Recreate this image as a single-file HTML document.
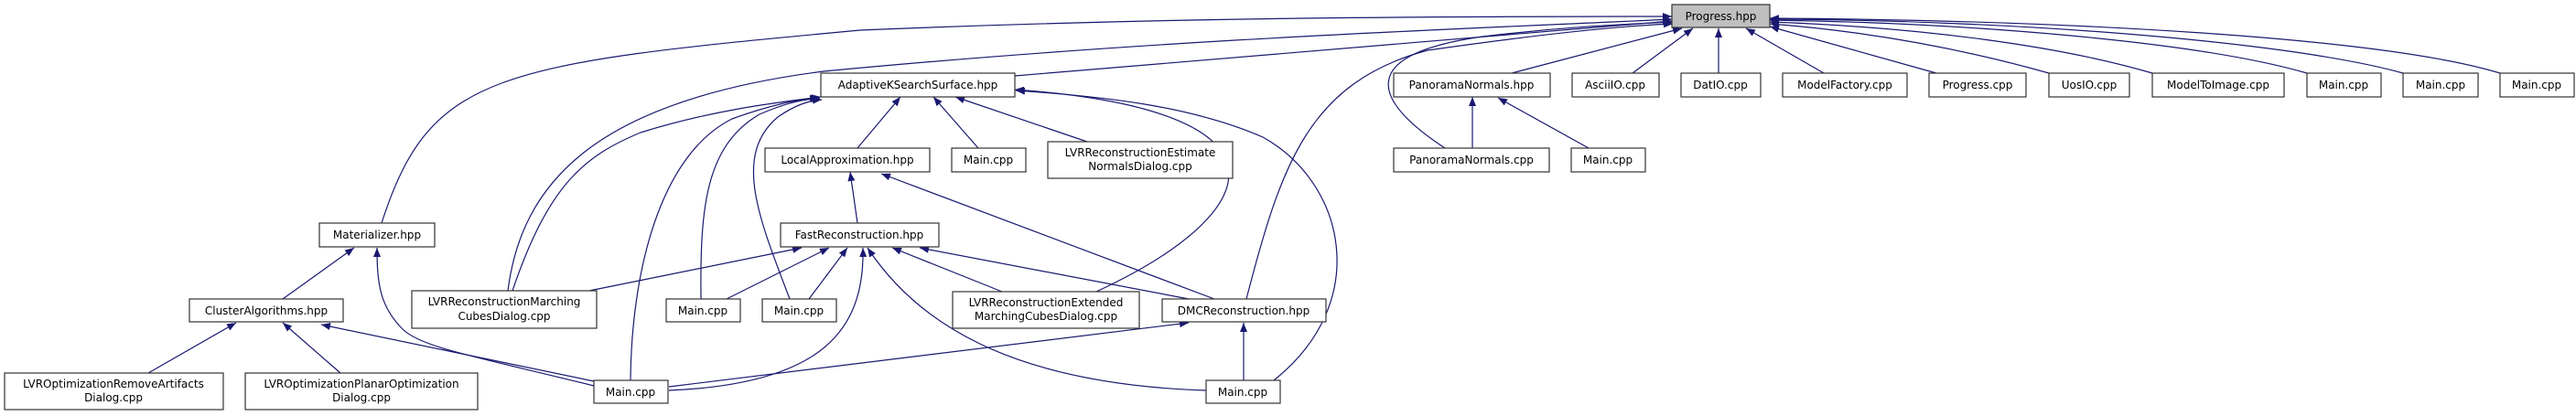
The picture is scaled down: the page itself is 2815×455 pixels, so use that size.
<!DOCTYPE html>
<html><head><meta charset="utf-8"><style>
html,body{margin:0;padding:0;background:#fff;}
svg{display:block;}
text{font-family:"DejaVu Sans","Liberation Sans",sans-serif;font-size:12px;fill:#000;text-anchor:middle;}
.b{fill:#fff;stroke:#333;stroke-width:1.2;}
.e{fill:none;stroke:#191970;stroke-width:1.2;marker-end:url(#a);}
</style></head><body>
<svg width="2815" height="455" viewBox="0 0 2815 455" xmlns="http://www.w3.org/2000/svg">
<defs><marker id="a" viewBox="0 0 10 8" refX="10" refY="4" markerWidth="10" markerHeight="8" markerUnits="userSpaceOnUse" orient="auto"><path d="M0,0L10,4L0,8z" fill="#191970"/></marker></defs>
<!-- edges to Progress -->
<path class="e" d="M417,244 C470,80 540,70 940,33 C1300,18 1600,18 1827,18"/>
<path class="e" d="M555,318 C570,200 650,110 900,78 C1300,40 1650,30 1827,21"/>
<path class="e" d="M1109,83 L1827,23"/>
<path class="e" d="M1362,327 C1400,180 1430,90 1560,55 C1700,35 1780,28 1828,26"/>
<path class="e" d="M1579,162 C1500,110 1480,60 1620,40 C1720,28 1790,26 1828,24"/>
<path class="e" d="M1652,80 L1838,31"/>
<path class="e" d="M1784,80 L1850,31"/>
<path class="e" d="M1878,80 L1878,31"/>
<path class="e" d="M1993,80 L1908,31"/>
<path class="e" d="M2116,80 L1934,29"/>
<path class="e" d="M2239,80 C2150,55 2050,35 1934,26"/>
<path class="e" d="M2352,80 C2250,50 2100,30 1934,24"/>
<path class="e" d="M2521,80 C2400,45 2150,25 1934,22"/>
<path class="e" d="M2626,80 C2500,45 2200,22 1934,21"/>
<path class="e" d="M2732,80 C2600,40 2250,22 1934,20"/>
<!-- edges to Adaptive -->
<path class="e" d="M937,162 L984,106"/>
<path class="e" d="M1069,162 L1020,106"/>
<path class="e" d="M1188,155 L1044,106"/>
<path class="e" d="M560,318 C600,200 640,170 700,145 C780,120 850,112 897,106"/>
<path class="e" d="M689,416 C690,300 720,170 800,130 C850,112 880,108 895,107"/>
<path class="e" d="M766,327 C765,230 770,160 830,125 C860,112 880,108 896,108"/>
<path class="e" d="M863,327 C830,240 800,170 850,128 C870,114 885,110 898,109"/>
<path class="e" d="M1198,319 C1390,230 1420,120 1109,98"/>
<path class="e" d="M1392,416 C1500,330 1470,200 1380,150 C1300,115 1200,105 1110,99"/>
<!-- LocalApprox -->
<path class="e" d="M937,244 L929,188"/>
<path class="e" d="M1327,327 L963,190"/>
<!-- FastRecon -->
<path class="e" d="M644,318 L876,271"/>
<path class="e" d="M794,327 L906,271"/>
<path class="e" d="M884,327 L926,271"/>
<path class="e" d="M731,427 C900,420 945,360 943,271"/>
<path class="e" d="M1318,427 C1100,420 1000,350 948,271"/>
<path class="e" d="M1095,319 L975,271"/>
<path class="e" d="M1299,327 L1005,271"/>
<!-- DMC -->
<path class="e" d="M731,423 L1299,353"/>
<path class="e" d="M1359,416 L1359,353"/>
<!-- Materializer -->
<path class="e" d="M309,327 L387,271"/>
<path class="e" d="M649,422 C520,390 460,380 440,360 C415,335 412,310 412,271"/>
<!-- Cluster -->
<path class="e" d="M162,408 L258,353"/>
<path class="e" d="M372,408 L309,353"/>
<path class="e" d="M649,417 L351,355"/>
<!-- PanoramaNormals.hpp -->
<path class="e" d="M1609,162 L1609,106"/>
<path class="e" d="M1736,162 L1637,107"/>
<!-- nodes -->
<rect x="1827" y="5" width="107" height="25" style="fill:#bfbfbf;stroke:#333;stroke-width:1.2"/><text x="1880.5" y="22">Progress.hpp</text>
<rect class="b" x="897" y="80" width="212" height="26"/><text x="1003" y="97">AdaptiveKSearchSurface.hpp</text>
<rect class="b" x="1523" y="80" width="171" height="26"/><text x="1608" y="97">PanoramaNormals.hpp</text>
<rect class="b" x="1718" y="80" width="95" height="26"/><text x="1765" y="97">AsciiIO.cpp</text>
<rect class="b" x="1837" y="80" width="87" height="26"/><text x="1880" y="97">DatIO.cpp</text>
<rect class="b" x="1948" y="80" width="136" height="26"/><text x="2016" y="97">ModelFactory.cpp</text>
<rect class="b" x="2108" y="80" width="106" height="26"/><text x="2161" y="97">Progress.cpp</text>
<rect class="b" x="2239" y="80" width="88" height="26"/><text x="2283" y="97">UosIO.cpp</text>
<rect class="b" x="2352" y="80" width="144" height="26"/><text x="2424" y="97">ModelToImage.cpp</text>
<rect class="b" x="2521" y="80" width="81" height="26"/><text x="2561" y="97">Main.cpp</text>
<rect class="b" x="2626" y="80" width="82" height="26"/><text x="2667" y="97">Main.cpp</text>
<rect class="b" x="2732" y="80" width="81" height="26"/><text x="2772" y="97">Main.cpp</text>
<rect class="b" x="836" y="162" width="180" height="26"/><text x="926" y="179">LocalApproximation.hpp</text>
<rect class="b" x="1040" y="162" width="81" height="26"/><text x="1080" y="179">Main.cpp</text>
<rect class="b" x="1145" y="155" width="202" height="40"/><text x="1246" y="171">LVRReconstructionEstimate</text><text x="1246" y="186">NormalsDialog.cpp</text>
<rect class="b" x="1523" y="162" width="170" height="26"/><text x="1608" y="179">PanoramaNormals.cpp</text>
<rect class="b" x="1717" y="162" width="81" height="26"/><text x="1757" y="179">Main.cpp</text>
<rect class="b" x="349" y="244" width="126" height="26"/><text x="412" y="261">Materializer.hpp</text>
<rect class="b" x="853" y="244" width="173" height="26"/><text x="939" y="261">FastReconstruction.hpp</text>
<rect class="b" x="207" y="327" width="168" height="25"/><text x="291" y="344">ClusterAlgorithms.hpp</text>
<rect class="b" x="450" y="318" width="202" height="41"/><text x="551" y="334">LVRReconstructionMarching</text><text x="551" y="350">CubesDialog.cpp</text>
<rect class="b" x="728" y="327" width="81" height="25"/><text x="768" y="344">Main.cpp</text>
<rect class="b" x="833" y="327" width="81" height="25"/><text x="873" y="344">Main.cpp</text>
<rect class="b" x="1041" y="319" width="204" height="40"/><text x="1143" y="335">LVRReconstructionExtended</text><text x="1143" y="350">MarchingCubesDialog.cpp</text>
<rect class="b" x="1270" y="327" width="179" height="25"/><text x="1359" y="344">DMCReconstruction.hpp</text>
<rect class="b" x="5" y="408" width="239" height="40"/><text x="124" y="424">LVROptimizationRemoveArtifacts</text><text x="124" y="439">Dialog.cpp</text>
<rect class="b" x="268" y="408" width="254" height="40"/><text x="395" y="424">LVROptimizationPlanarOptimization</text><text x="395" y="439">Dialog.cpp</text>
<rect class="b" x="649" y="416" width="81" height="25"/><text x="689" y="433">Main.cpp</text>
<rect class="b" x="1318" y="416" width="81" height="25"/><text x="1358" y="433">Main.cpp</text>
</svg>
</body></html>
